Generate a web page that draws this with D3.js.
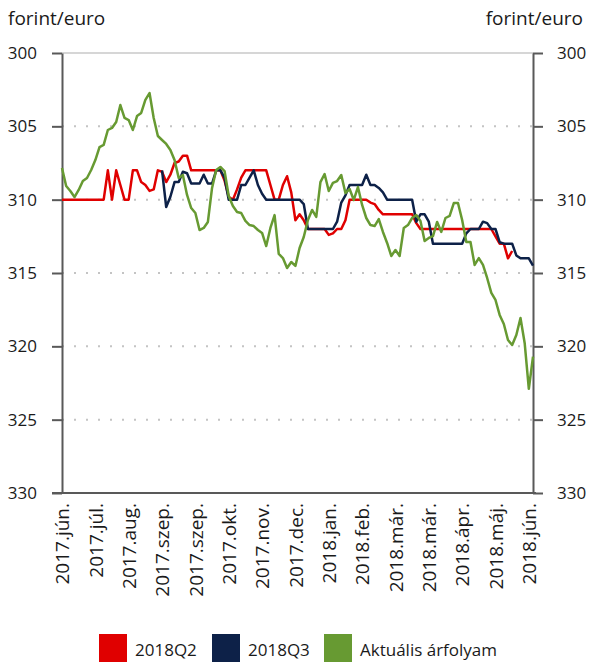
<!DOCTYPE html>
<html>
<head>
<meta charset="utf-8">
<script src="https://cdn.jsdelivr.net/npm/d3@7"></script>
<style>
body { margin: 0; background: #fff; }
text { font-family: "Open Sans", sans-serif; fill: #1a1a1a; }
</style>
</head>
<body>
<div id="chart"></div>
<script>
// x tick labels (one every 8 observations)
var labels = ["2017.jún.", "2017.júl.", "2017.aug.", "2017.szep.", "2017.szep.", "2017.okt.", "2017.nov.",
  "2017.dec.", "2018.jan.", "2018.feb.", "2018.már.", "2018.már.", "2018.ápr.", "2018.máj.", "2018.jún."];
var labelStep = 8;
var yTicks = [300, 305, 310, 315, 320, 325, 330];

// 2018Q2 futures
var q2 = [
  310, 310, 310, 310, 310, 310, 310, 310, 310, 310,
  310, 308, 310, 308, 309, 310, 310, 308, 308, 308.8,
  309, 309.4, 309.3, 308, 308.1, 308.8, 308.3, 307.5, 307.4, 307,
  307, 308, 308, 308, 308, 308, 308, 308, 308, 308.7,
  309.8, 310, 309.3, 308.5, 308, 308, 308, 308, 308, 308,
  309, 310, 310, 309, 308.4, 309.5, 311.4, 311, 311.4, 312,
  312, 312, 312, 312, 312.4, 312.3, 312, 312, 311.4, 310,
  310, 310, 310, 310, 310.2, 310.3, 310.7, 311, 311, 311,
  311, 311, 311, 311, 311, 311.6, 312, 312, 312, 312,
  312, 312, 312, 312, 312, 312, 312, 312, 312, 312,
  312, 312, 312, 312, 312.5, 313, 313, 314, 313.5, null,
  null, null, null, null];

// 2018Q3 futures
var q3 = [
  null, null, null, null, null, null, null, null, null, null,
  null, null, null, null, null, null, null, null, null, null,
  null, null, null, null, 308, 310.5, 309.8, 308.8, 308.8, 308.1,
  308.2, 308.9, 308.9, 308.9, 308.3, 308.9, 308.9, 308, 308, 308.5,
  310, 310, 310, 309, 309, 308.5, 308, 309, 309.6, 310,
  310, 310, 310, 310, 310, 310, 310, 310, 310.3, 312,
  312, 312, 312, 312, 312, 312, 311.5, 310.2, 309.7, 309,
  309, 309, 309, 308.3, 309, 309, 309.2, 309.5, 310, 310,
  310, 310, 310, 310, 310, 311.5, 311, 311, 311.5, 313,
  313, 313, 313, 313, 313, 313, 313, 312.3, 312, 312,
  312, 311.5, 311.6, 312, 312, 312.9, 313, 313, 313, 313.8,
  314, 314, 314, 314.5];

// spot rate
var spot = [
  307.84, 309.07, 309.41, 309.82, 309.34, 308.73, 308.52, 307.98, 307.30, 306.41,
  306.27, 305.25, 305.11, 304.70, 303.55, 304.43, 304.57, 305.25, 304.30, 304.09,
  303.20, 302.73, 304.43, 305.66, 305.93, 306.20, 306.61, 307.30, 308.52, 308.32,
  309.68, 310.57, 310.91, 312.07, 311.93, 311.52, 309.20, 307.98, 307.77, 308.05,
  309.75, 310.43, 310.84, 310.91, 311.45, 311.73, 311.80, 312.07, 312.27, 313.16,
  311.93, 311.05, 313.70, 313.98, 314.66, 314.25, 314.52, 313.30, 312.55, 311.39,
  310.70, 311.18, 308.80, 308.25, 309.41, 308.86, 308.73, 308.32, 309.55, 309.27,
  310.02, 309.14, 310.36, 311.25, 311.73, 311.80, 311.32, 312.20, 312.95, 313.84,
  313.43, 313.84, 311.93, 311.73, 311.25, 311.05, 311.45, 312.82, 312.61, 312.48,
  311.52, 312.20, 311.25, 311.11, 310.23, 310.23, 311.39, 312.89, 312.89, 314.45,
  313.98, 314.45, 315.34, 316.36, 316.84, 317.86, 318.48, 319.57, 319.91, 319.23,
  318.07, 319.77, 322.9, 320.7];

var seriesNames = ["2018Q2", "2018Q3", "Aktuális árfolyam"];
var seriesColors = ["#e00000", "#0d2148", "#679a32"];

var W = 590, H = 663;
var margin = {left: 62, right: 57, top: 53, bottom: 170};
var width = W - margin.left - margin.right;
var height = H - margin.top - margin.bottom;
var axisColor = "#595959";

var svg = d3.select("#chart").append("svg")
  .attr("width", W)
  .attr("height", H);

var g = svg.append("g")
  .attr("transform", "translate(" + margin.left + "," + margin.top + ")");

var x = d3.scaleLinear().domain([0, spot.length - 1]).range([0, width]);
var y = d3.scaleLinear().domain([300, 330]).range([0, height]);

// grid lines
g.selectAll(".grid")
  .data(yTicks.filter(function(d) { return d > 300 && d < 330; }))
  .enter().append("line")
  .attr("x1", 0).attr("x2", width)
  .attr("y1", function(d) { return y(d); })
  .attr("y2", function(d) { return y(d); })
  .attr("stroke", "#c4c4c4")
  .attr("stroke-width", 2)
  .attr("stroke-dasharray", "2,10");

g.append("line")
  .attr("x1", 0).attr("x2", width)
  .attr("y1", y(300)).attr("y2", y(300))
  .attr("stroke", "#c8c8c8")
  .attr("stroke-width", 1.5);

// y axes on both sides
var yLeft = d3.axisLeft(y).tickValues(yTicks).tickSize(10).tickSizeOuter(0).tickPadding(15);
var yRight = d3.axisRight(y).tickValues(yTicks).tickSize(10).tickSizeOuter(0).tickPadding(14);

var gyl = g.append("g").call(yLeft);
var gyr = g.append("g").attr("transform", "translate(" + width + ",0)").call(yRight);

[gyl, gyr].forEach(function(a) {
  a.selectAll("path, line").attr("stroke", axisColor).attr("stroke-width", 2);
  a.selectAll("text").style("font-size", "17px").attr("fill", "#1a1a1a");
});

// bottom axis line
g.append("line")
  .attr("x1", -10).attr("x2", width + 3)
  .attr("y1", height).attr("y2", height)
  .attr("stroke", axisColor)
  .attr("stroke-width", 2);

// x labels, rotated
var xAxis = d3.axisBottom(x)
  .tickValues(labels.map(function(d, i) { return i * labelStep; }))
  .tickFormat(function(d) { return labels[d / labelStep]; })
  .tickSize(0);

var gx = g.append("g").attr("transform", "translate(0," + height + ")").call(xAxis);
gx.select(".domain").remove();
gx.selectAll("text")
  .style("font-size", "19px")
  .attr("fill", "#1a1a1a")
  .attr("transform", "rotate(-90)")
  .attr("x", -10)
  .attr("y", 0)
  .attr("dy", "0.35em")
  .style("text-anchor", "end");

// lines
var line = d3.line()
  .defined(function(d) { return d != null; })
  .x(function(d, i) { return x(i); })
  .y(function(d) { return y(d); });

[q2, q3, spot].forEach(function(s, k) {
  g.append("path")
    .datum(s)
    .attr("fill", "none")
    .attr("stroke", seriesColors[k])
    .attr("stroke-width", 2.5)
    .attr("stroke-linejoin", "round")
    .attr("d", line);
});

// unit labels
svg.append("text").attr("x", 8).attr("y", 25)
  .style("font-size", "19px").text("forint/euro");
svg.append("text").attr("x", 583).attr("y", 25)
  .style("text-anchor", "end")
  .style("font-size", "19px").text("forint/euro");

// legend
var legendX = [99, 212, 324];
var legend = svg.selectAll(".legend")
  .data(seriesNames)
  .enter().append("g")
  .attr("transform", function(d, i) { return "translate(" + legendX[i] + ",634)"; });

legend.append("rect")
  .attr("width", 28).attr("height", 28)
  .attr("fill", function(d, i) { return seriesColors[i]; });

legend.append("text")
  .attr("x", 36).attr("y", 22)
  .style("font-size", "17px")
  .text(function(d) { return d; });
</script>
</body>
</html>
